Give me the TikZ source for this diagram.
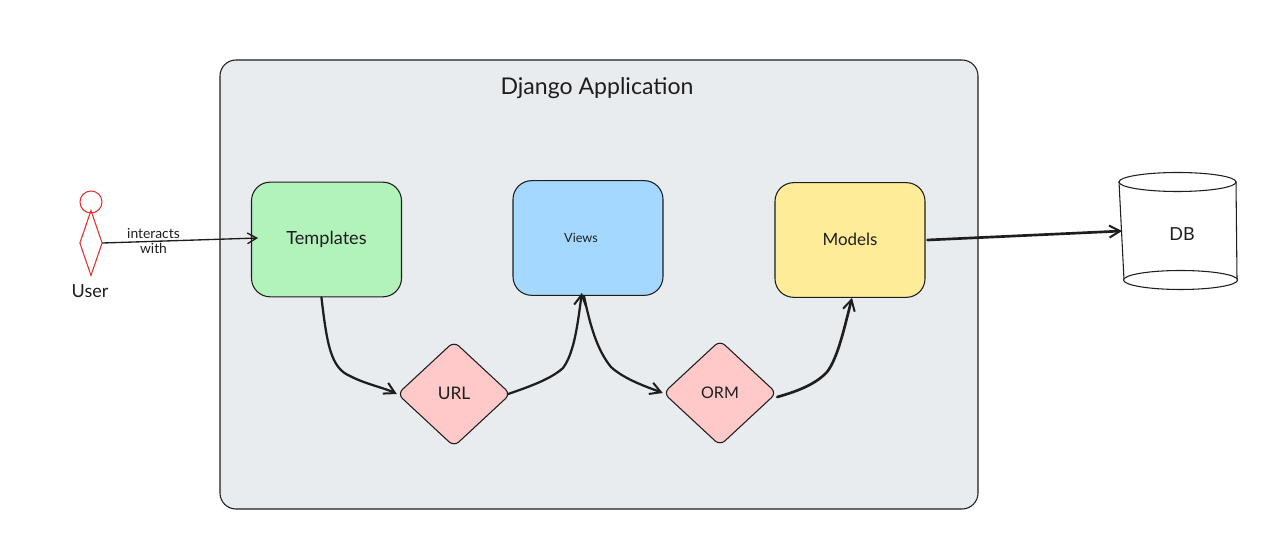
\documentclass[tikz,border=0pt]{standalone}
\usepackage{fontspec}
\setmainfont{Lato}
\usetikzlibrary{arrows.meta,shapes.geometric,calc}
\definecolor{ink}{HTML}{1E1E1E}
\definecolor{redink}{HTML}{E03131}
\definecolor{groupbg}{HTML}{E9ECEF}
\definecolor{greenbg}{HTML}{B2F2BB}
\definecolor{bluebg}{HTML}{A5D8FF}
\definecolor{yellowbg}{HTML}{FFEC99}
\definecolor{pinkbg}{HTML}{FFC9C9}
\newcommand{\txt}[1]{\fontsize{#1}{#1}\selectfont}
\tikzset{
  x=0.75pt,y=-0.75pt,
  labeltext/.style={text=ink,inner sep=0pt},
  card/.style={draw=ink,line width=0.8pt,rounded corners=14pt,minimum width=112.5pt,minimum height=86pt,inner sep=0pt,labeltext},
  gate/.style={diamond,draw=ink,line width=0.8pt,rounded corners=5pt,minimum width=85pt,minimum height=79pt,inner sep=0pt,fill=pinkbg,aspect=1.08,labeltext},
  flow/.style={draw=ink,line width=1.7pt,line cap=round,-{Straight Barb[length=8pt,width=9pt,line width=1.5pt]}},
  thinflow/.style={draw=ink,line width=1pt,line cap=round,-{Straight Barb[length=7pt,width=8pt,line width=1pt]}},
}
\begin{document}
\begin{tikzpicture}
\useasboundingbox (0,0) rectangle (1266,555);
\fill[white] (0,0) rectangle (1266,555);
% group
\node[draw=ink,line width=0.8pt,fill=groupbg,rounded corners=12pt,minimum width=568.5pt,minimum height=336.75pt,inner sep=0pt] (app) at (599,284.5) {};
\node[text=ink,inner sep=0pt,font=\txt{17.3}] (apptitle) at (597,88.5) {Django Application};
% cards
\node[card,fill=greenbg,font=\txt{13.6}] (tpl) at (326.5,239.5) {\raisebox{-1pt}{Templates}};
\node[card,fill=bluebg] (views) at (588,238) {};
\node[labeltext,font=\txt{9.5}] (viewslabel) at (581,238) {Views};
\node[card,fill=yellowbg,font=\txt{12.7}] (models) at (850,240) {\raisebox{1pt}{Models}};
\node[gate,font=\txt{13}] (url) at (454,394) {\raisebox{1pt}{URL}};
\node[gate,font=\txt{12}] (orm) at (720,393) {\raisebox{1pt}{ORM}};
% user
\node[circle,draw=redink,line width=0.8pt,minimum size=16.5pt,inner sep=0pt] (head) at (91,202) {};
\node[diamond,draw=redink,line width=0.8pt,minimum width=17pt,minimum height=49pt,aspect=0.34,inner sep=0pt] (body) at (91,243) {};
\node[labeltext,font=\txt{13.5}] (user) at (90,291.5) {User};
% db
\draw[ink,line width=0.8pt,fill=white] (1119,182) -- (1124,280) -- (1237,280) -- (1236,182) -- cycle;
\draw[ink,line width=0.8pt,fill=white] (1180.5,280) ellipse[x radius=57,y radius=9.5];
\draw[ink,line width=0.8pt,fill=white] (1177.5,182) ellipse[x radius=58.5,y radius=9.5];
\node[labeltext,font=\txt{13.5}] (db) at (1182,234) {DB};
\coordinate (dbin) at (1122,231);
% connectors
\coordinate (tplin) at (258,238);
\draw[thinflow] (body.east) -- (tplin);
\draw[flow] (tpl.-95) .. controls (327,345) and (331,368) .. (350,376) .. controls (365,384) and (385,388) .. (url.west);
\draw[flow] ($(url.east)+(-3,0)$) .. controls (525,388) and (550,380) .. (563,368) .. controls (575,352) and (578,320) .. ($(views.-96)+(0,-3)$);
\draw[flow] (views.-94) .. controls (590,325) and (597,350) .. (611,367) .. controls (625,380) and (650,388) .. (orm.west);
\draw[flow,line width=2pt] ($(orm.east)+(0,4)$) .. controls (795,392) and (815,385) .. (827,372) .. controls (838,358) and (845,325) .. (models.-88);
\draw[flow,line width=2pt] ($(models.east)+(2,0)$) -- (dbin);
% edge label
\node[labeltext,font=\txt{10.4}] (lbl1) at (153.5,233.5) {interacts};
\node[labeltext,font=\txt{10.4}] (lbl2) at (153.5,248) {with};
\end{tikzpicture}
\end{document}
